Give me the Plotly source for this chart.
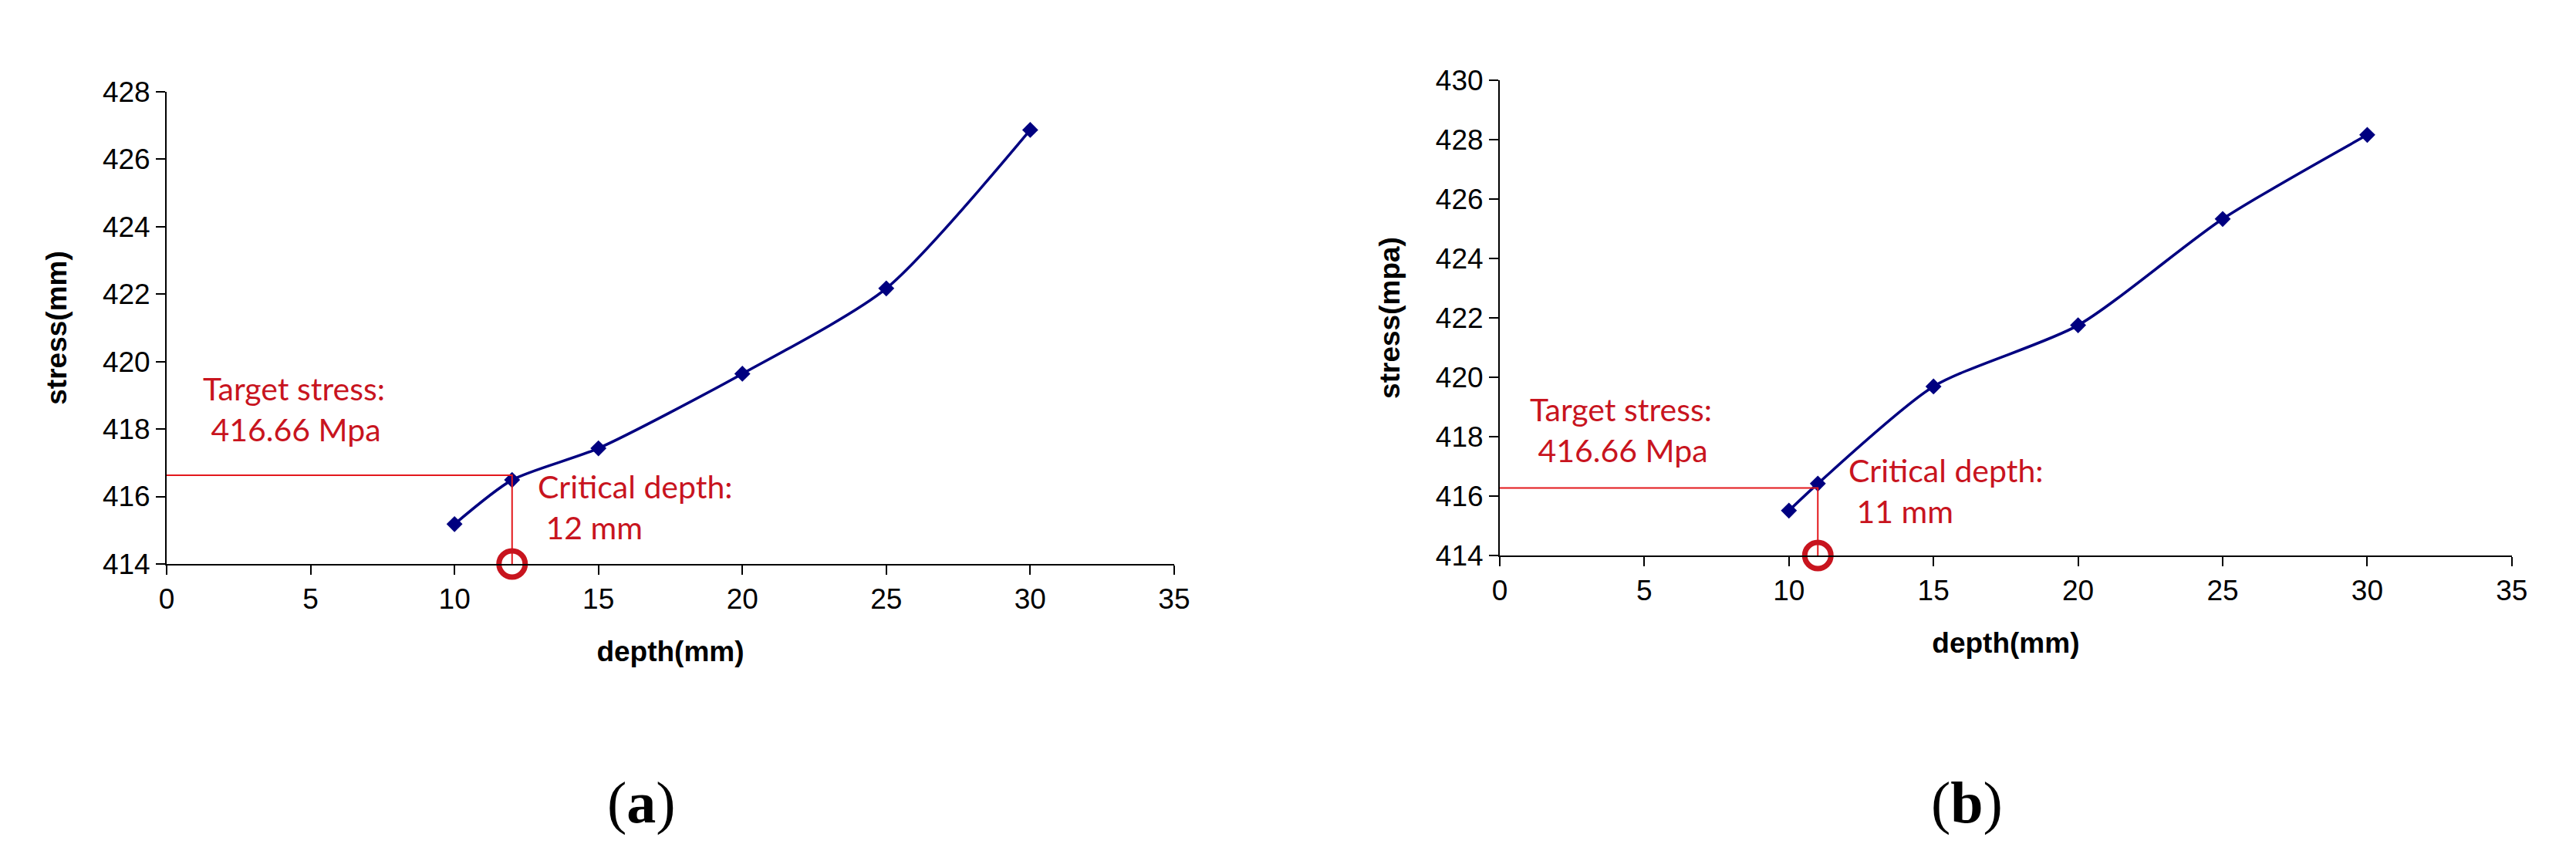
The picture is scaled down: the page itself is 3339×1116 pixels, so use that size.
import plotly.graph_objects as go

# ---- data ----
depth_a = [10, 12, 15, 20, 25, 30]
stress_a = [415.18, 416.49, 417.43, 419.64, 422.17, 426.87]
target_a = 416.63
critical_a = 12

depth_b = [10, 11, 15, 20, 25, 30]
stress_b = [415.51, 416.42, 419.69, 421.75, 425.33, 428.16]
target_b = 416.27
critical_b = 11

x_ticks = [0, 5, 10, 15, 20, 25, 30, 35]
y_ticks_a = [414, 416, 418, 420, 422, 424, 426, 428]
y_ticks_b = [414, 416, 418, 420, 422, 424, 426, 428, 430]

target_text = "Target stress:<br> 416.66 Mpa"
critical_text_a = "Critical depth:<br> 12 mm"
critical_text_b = "Critical depth:<br> 11 mm"

NAVY = "#000080"
RED_LINE = "#E3181C"
RED_TEXT = "#C8141E"
AX_FONT = "Liberation Sans, Arial, sans-serif"
ANN_FONT = "Lato, Open Sans, sans-serif"

fig = go.Figure()

def add_panel(xs, ys, target, crit, xa, ya):
    fig.add_trace(go.Scatter(
        x=xs, y=ys, mode="lines+markers", xaxis=xa, yaxis=ya,
        line=dict(color=NAVY, width=3.5, shape="spline", smoothing=0.7),
        marker=dict(symbol="diamond", size=16, color=NAVY),
        cliponaxis=False, hoverinfo="x+y"))
    fig.add_trace(go.Scatter(
        x=[0, crit, crit], y=[target, target, 414], mode="lines",
        xaxis=xa, yaxis=ya, line=dict(color=RED_LINE, width=2),
        cliponaxis=False, hoverinfo="skip"))
    fig.add_trace(go.Scatter(
        x=[crit], y=[414], mode="markers", xaxis=xa, yaxis=ya,
        marker=dict(symbol="circle-open", size=34, color=RED_TEXT,
                    line=dict(width=7, color=RED_TEXT)),
        cliponaxis=False, hoverinfo="skip"))

add_panel(depth_a, stress_a, target_a, critical_a, "x", "y")
add_panel(depth_b, stress_b, target_b, critical_b, "x2", "y2")

def xaxis_style(domain, anchor):
    return dict(
        domain=domain, anchor=anchor, range=[0, 35], tickvals=x_ticks,
        showline=True, linecolor="black", linewidth=2, mirror=False,
        ticks="outside", ticklen=12, tickwidth=2, tickcolor="black",
        showgrid=False, zeroline=False,
        tickfont=dict(family=AX_FONT, size=37, color="black"),
        title=dict(text="<b>depth(mm)</b>", standoff=35,
                   font=dict(family=AX_FONT, size=37, color="black")),
        automargin=False)

def yaxis_style(domain, anchor, rng, ticks, title):
    return dict(
        domain=domain, anchor=anchor, range=rng, tickvals=ticks,
        showline=True, linecolor="black", linewidth=2, mirror=False,
        ticks="outside", ticklen=12, tickwidth=2, tickcolor="black",
        showgrid=False, zeroline=False,
        tickfont=dict(family=AX_FONT, size=37, color="black"),
        title=dict(text="<b>" + title + "</b>", standoff=35,
                   font=dict(family=AX_FONT, size=37, color="black")),
        automargin=False)

fig.update_layout(
    width=3339, height=1116,
    margin=dict(l=0, r=0, t=0, b=0),
    paper_bgcolor="white", plot_bgcolor="white",
    showlegend=False,
    xaxis=xaxis_style([0.0623, 0.4534], "y"),
    yaxis=yaxis_style([0.3522, 0.9005], "x", [414, 428], y_ticks_a, "stress(mm)"),
    xaxis2=xaxis_style([0.5798, 0.9727], "y2"),
    yaxis2=yaxis_style([0.3620, 0.9140], "x2", [414, 430], y_ticks_b, "stress(mpa)"),
)

ann_font = dict(family=ANN_FONT, size=41, color=RED_TEXT)
annotations = [
    dict(text=target_text, xref="x", yref="y", x=1.2, y=419.8,
         xanchor="left", yanchor="top", align="left", showarrow=False, font=ann_font),
    dict(text=critical_text_a, xref="x", yref="y", x=12.85, y=416.9,
         xanchor="left", yanchor="top", align="left", showarrow=False, font=ann_font),
    dict(text=target_text, xref="x2", yref="y2", x=1.0, y=419.6,
         xanchor="left", yanchor="top", align="left", showarrow=False, font=ann_font),
    dict(text=critical_text_b, xref="x2", yref="y2", x=12.0, y=417.55,
         xanchor="left", yanchor="top", align="left", showarrow=False, font=ann_font),
    dict(text="(<b>a</b>)", xref="paper", yref="paper", x=0.2465, y=0.0744,
         xanchor="center", yanchor="middle", showarrow=False,
         font=dict(family="Liberation Serif, Times New Roman, serif", size=76, color="black")),
    dict(text="(<b>b</b>)", xref="paper", yref="paper", x=0.7613, y=0.0744,
         xanchor="center", yanchor="middle", showarrow=False,
         font=dict(family="Liberation Serif, Times New Roman, serif", size=76, color="black")),
]
fig.update_layout(annotations=annotations)

fig.write_html("out.html")
